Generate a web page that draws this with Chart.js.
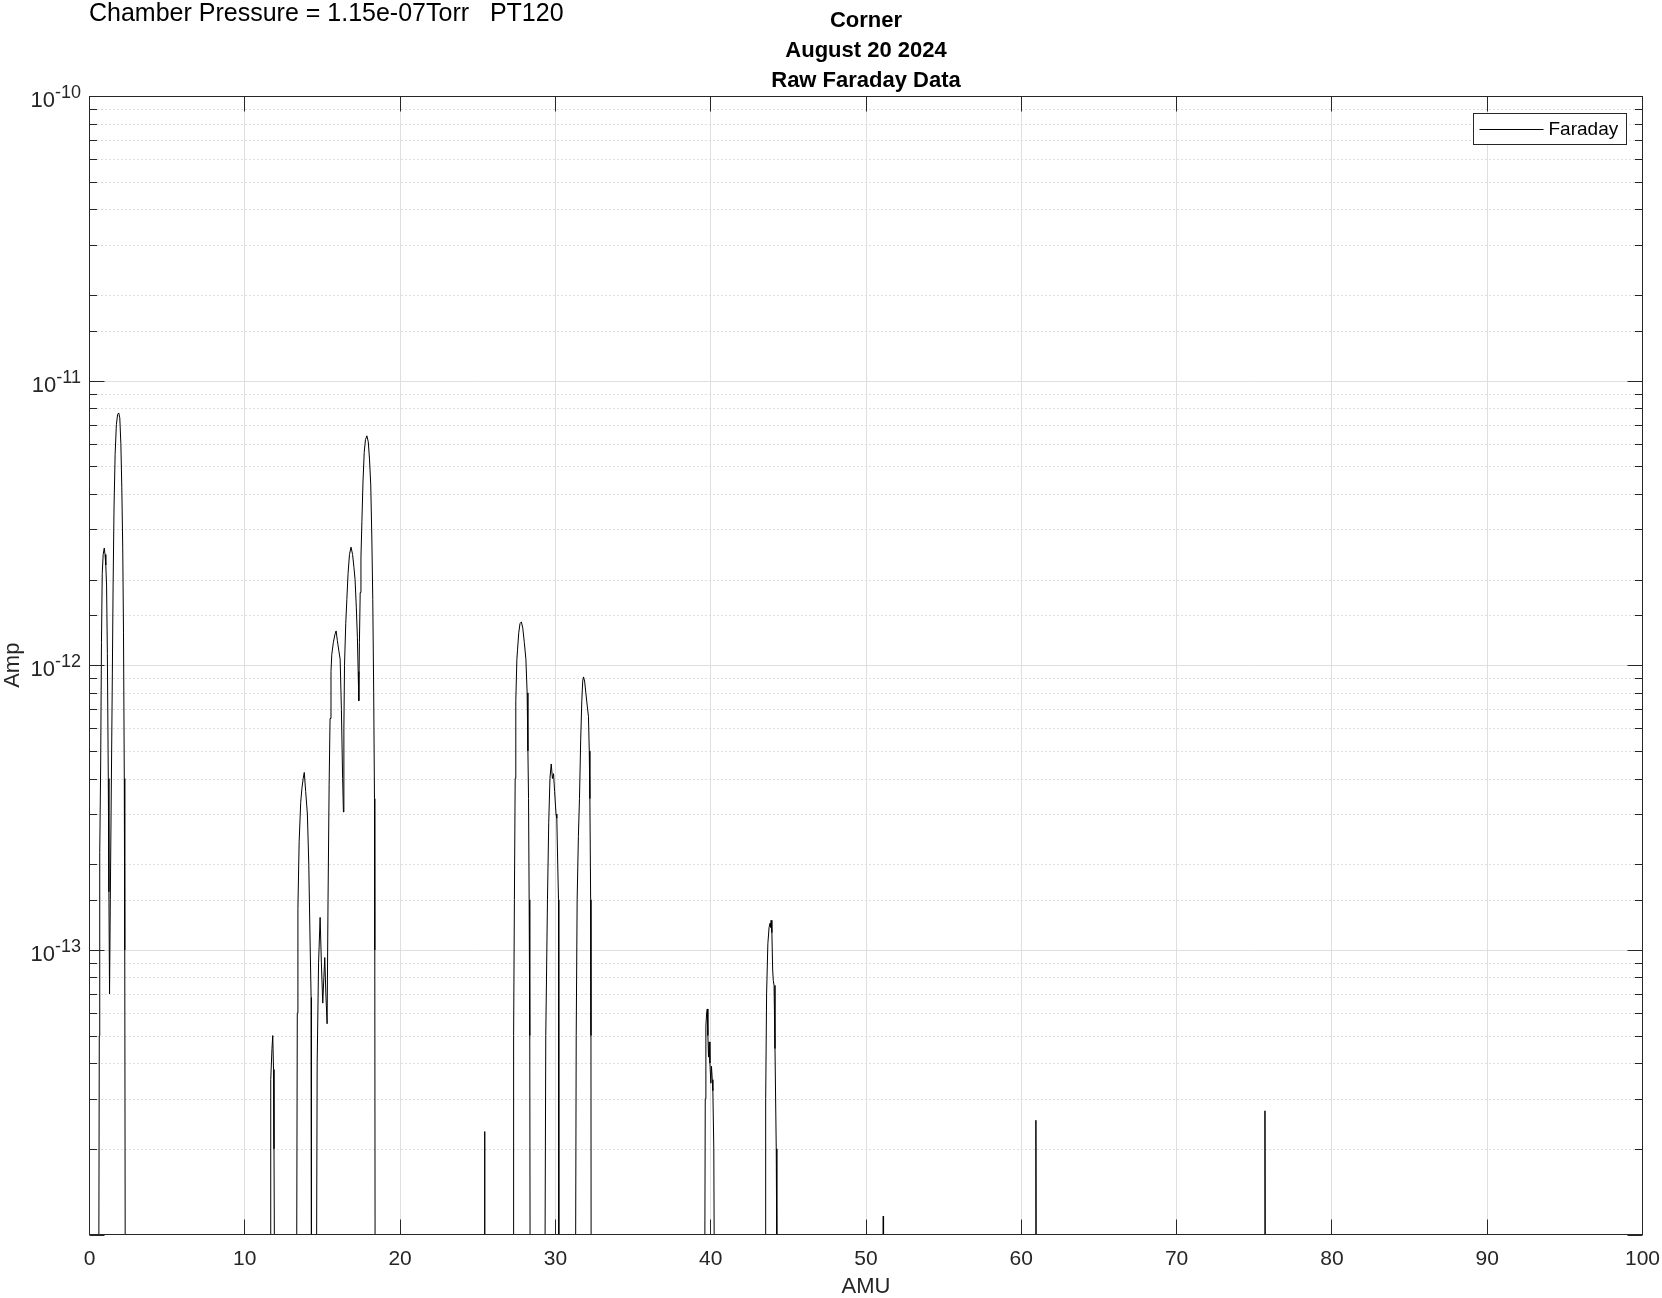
<!DOCTYPE html>
<html>
<head>
<meta charset="utf-8">
<script src="https://cdn.jsdelivr.net/npm/chart.js@4.4.1/dist/chart.umd.min.js"></script>
<style>
html,body{margin:0;padding:0;background:#ffffff;}
canvas{display:block;}
</style>
</head>
<body>
<canvas id="c" width="1662" height="1298" style="width:1662px;height:1298px"></canvas>
<script>
// ---------- data ----------
const amu = [
  0, 0.60, 0.63, 0.66, 0.72, 0.77, 0.82, 0.88, 0.95, 1.00, 1.05, 1.10, 1.15, 1.21, 1.25, 1.29,
  1.34, 1.40, 1.46, 1.52, 1.58, 1.65, 1.73, 1.81, 1.88, 1.95, 2.02, 2.08, 2.14, 2.19, 2.24, 2.27, 2.30,
  11.63, 11.66, 11.68, 11.75, 11.80, 11.85, 11.88, 11.91,
  13.34, 13.38, 13.42, 13.50, 13.60, 13.68, 13.76, 13.83, 13.92, 14.03, 14.12, 14.20, 14.27, 14.29,
  14.62, 14.66, 14.75, 14.85, 14.93, 15.02, 15.09, 15.15, 15.22, 15.30,
  15.36, 15.43, 15.49, 15.55, 15.60, 15.70, 15.80, 15.88, 15.96, 16.06, 16.14, 16.22, 16.30, 16.35,
  16.38, 16.42, 16.50, 16.57, 16.65, 16.74, 16.84, 16.94, 17.03, 17.10, 17.18, 17.25, 17.30, 17.34,
  17.38, 17.43, 17.48, 17.54, 17.61, 17.69, 17.77, 17.86, 17.95, 18.03, 18.11, 18.18, 18.24, 18.30, 18.35, 18.37, 18.39,
  25.42, 25.44, 25.46,
  27.27, 27.31, 27.36, 27.41, 27.45, 27.52, 27.56, 27.64, 27.72, 27.81, 27.90, 28.00, 28.10, 28.18, 28.23, 28.27, 28.31, 28.35, 28.37,
  29.33, 29.38, 29.49, 29.57, 29.65, 29.73, 29.81, 29.88, 29.95, 30.04, 30.09, 30.15, 30.20, 30.22,
  31.30, 31.34, 31.40, 31.48, 31.55, 31.63, 31.70, 31.76, 31.81, 31.88, 31.96, 32.05, 32.13, 32.18, 32.22, 32.27, 32.29, 32.30,
  39.62, 39.65, 39.69, 39.74, 39.78, 39.82, 39.86, 39.90, 39.95, 40.01, 40.05, 40.10, 40.14, 40.20, 40.23,
  43.50, 43.54, 43.60, 43.68, 43.76, 43.82, 43.86, 43.89, 43.94, 43.99, 44.03, 44.08, 44.14, 44.22, 44.26,
  51.09, 51.11, 51.13,
  60.92, 60.94, 60.96,
  75.67, 75.69, 75.71,
  100
];
const amp = [
  8e-15, 8e-15, 5e-14, 2.2e-13, 4.5e-13, 1.2e-12, 2.1e-12, 2.45e-12, 2.58e-12, 2.45e-12, 2.25e-12, 1.9e-12, 1.1e-12, 4e-13, 1.6e-13, 7e-14,
  1.5e-13, 3.5e-13, 8e-13, 1.9e-12, 3.6e-12, 5.5e-12, 7.0e-12, 7.6e-12, 7.7e-12, 7.4e-12, 6.0e-12, 4.2e-12, 2.6e-12, 1.3e-12, 4e-13, 1e-13, 8e-15,
  8e-15, 2e-14, 3.5e-14, 4.5e-14, 5e-14, 3.8e-14, 2e-14, 8e-15,
  8e-15, 6e-14, 1.4e-13, 2.4e-13, 3.3e-13, 3.7e-13, 4.0e-13, 4.2e-13, 3.6e-13, 3.0e-13, 2e-13, 1.1e-13, 6.8e-14, 8e-15,
  8e-15, 4e-14, 9e-14, 1.3e-13, 9e-14, 6.5e-14, 8e-14, 9.4e-14, 7e-14, 5.5e-14,
  1.5e-13, 3.8e-13, 6.5e-13, 9.5e-13, 1.09e-12, 1.2e-12, 1.28e-12, 1.32e-12, 1.22e-12, 1.12e-12, 1.05e-12, 7e-13, 4e-13, 3.05e-13,
  6e-13, 1e-12, 1.4e-12, 1.7e-12, 2.1e-12, 2.45e-12, 2.6e-12, 2.45e-12, 2.2e-12, 2.0e-12, 1.6e-12, 1.25e-12, 9.5e-13, 7.5e-13,
  1.2e-12, 1.8e-12, 2.4e-12, 3.2e-12, 4.4e-12, 5.6e-12, 6.2e-12, 6.4e-12, 6.1e-12, 5.3e-12, 4.3e-12, 2.8e-12, 1.7e-12, 8e-13, 3.4e-13, 1e-13, 8e-15,
  8e-15, 2.3e-14, 8e-15,
  8e-15, 5e-14, 1.5e-13, 4e-13, 7.5e-13, 1.05e-12, 1.13e-12, 1.3e-12, 1.4e-12, 1.42e-12, 1.35e-12, 1.2e-12, 1.05e-12, 8e-13, 5e-13, 3.4e-13, 1.5e-13, 5e-14, 8e-15,
  8e-15, 5e-14, 1.5e-13, 2.8e-13, 4e-13, 4.5e-13, 4.0e-13, 4.16e-13, 3.6e-13, 3.0e-13, 2.9e-13, 2e-13, 1.5e-13, 8e-15,
  8e-15, 5e-14, 1.5e-13, 2.5e-13, 3.4e-13, 5.5e-13, 7.5e-13, 8.8e-13, 9.1e-13, 8.8e-13, 8.0e-13, 7.2e-13, 6.6e-13, 5e-13, 3.4e-13, 1.5e-13, 5e-14, 8e-15,
  8e-15, 3e-14, 5.4e-14, 6e-14, 6.2e-14, 5e-14, 4.2e-14, 4.75e-14, 4e-14, 3.4e-14, 3.9e-14, 3.5e-14, 3.2e-14, 2e-14, 8e-15,
  8e-15, 3e-14, 7e-14, 1.05e-13, 1.2e-13, 1.24e-13, 1.2e-13, 1.27e-13, 1.15e-13, 8.5e-14, 7.8e-14, 7.5e-14, 4.5e-14, 2e-14, 8e-15,
  8e-15, 1.16e-14, 8e-15,
  8e-15, 2.52e-14, 8e-15,
  8e-15, 2.72e-14, 8e-15,
  8e-15
];
const xTickValues = [0, 10, 20, 30, 40, 50, 60, 70, 80, 90, 100];
const yTickExponents = [-10, -11, -12, -13];
const seriesLabel = 'Faraday';
const titleLines = ['Corner', 'August 20 2024', 'Raw Faraday Data'];
const pressureNote = 'Chamber Pressure = 1.15e-07Torr   PT120';
const xAxisTitle = 'AMU';
const yAxisTitle = 'Amp';

// ---------- styling ----------
const FONT = '"Liberation Sans", Arial, Helvetica, sans-serif';
const AXIS_COLOR = '#262626';

function isDecade(v) {
  const e = Math.log10(v);
  return Math.abs(e - Math.round(e)) < 1e-6;
}

const matlabAxes = {
  id: 'matlabAxes',
  beforeDatasetsDraw(chart) {
    const {ctx, chartArea: a, scales: {x, y}} = chart;
    const L = Math.floor(a.left) + 0.5, R = Math.floor(a.right) + 0.5;
    const T = Math.floor(a.top) + 0.5, B = Math.floor(a.bottom) + 0.5;
    ctx.save();
    ctx.lineWidth = 1;
    // minor y grid (dotted)
    ctx.strokeStyle = '#bdbdbd';
    ctx.setLineDash([1, 3]);
    y.ticks.forEach(t => {
      if (isDecade(t.value)) return;
      const py = Math.round(y.getPixelForValue(t.value)) + 0.5;
      if (py <= T || py >= B) return;
      ctx.beginPath(); ctx.moveTo(L, py); ctx.lineTo(R, py); ctx.stroke();
    });
    ctx.setLineDash([]);
    // major grid
    ctx.strokeStyle = '#dfdfdf';
    y.ticks.forEach(t => {
      if (!isDecade(t.value)) return;
      const py = Math.round(y.getPixelForValue(t.value)) + 0.5;
      if (py <= T + 1 || py >= B - 1) return;
      ctx.beginPath(); ctx.moveTo(L, py); ctx.lineTo(R, py); ctx.stroke();
    });
    xTickValues.forEach(v => {
      const px = Math.floor(x.getPixelForValue(v)) + 0.5;
      if (px <= L + 1 || px >= R - 1) return;
      ctx.beginPath(); ctx.moveTo(px, T); ctx.lineTo(px, B); ctx.stroke();
    });
    ctx.restore();
  },
  afterDatasetsDraw(chart) {
    const {ctx, chartArea: a, scales: {x, y}} = chart;
    const L = Math.floor(a.left) + 0.5, R = Math.floor(a.right) + 0.5;
    const T = Math.floor(a.top) + 0.5, B = Math.floor(a.bottom) + 0.5;
    ctx.save();
    ctx.lineWidth = 1;
    ctx.strokeStyle = AXIS_COLOR;
    // x ticks (inside, bottom and top)
    xTickValues.forEach(v => {
      const px = Math.floor(x.getPixelForValue(v)) + 0.5;
      ctx.beginPath();
      ctx.moveTo(px, B); ctx.lineTo(px, B - 15);
      ctx.moveTo(px, T); ctx.lineTo(px, T + 15);
      ctx.stroke();
    });
    // y ticks (inside, left and right)
    y.ticks.forEach(t => {
      const py = Math.round(y.getPixelForValue(t.value)) + 0.5;
      if (py < T - 1 || py > B + 1) return;
      const len = isDecade(t.value) ? 15 : 7.5;
      ctx.beginPath();
      ctx.moveTo(L, py); ctx.lineTo(L + len, py);
      ctx.moveTo(R, py); ctx.lineTo(R - len, py);
      ctx.stroke();
    });
    // box
    ctx.strokeRect(L, T, R - L, B - T);

    // legend
    const ds = chart.data.datasets[0];
    ctx.font = '19px ' + FONT;
    const tw = ctx.measureText(ds.label).width;
    const bw = Math.round(6 + 64 + 5 + tw + 8);
    const bh = 31;
    const bx = Math.floor(a.right - 16 - bw) + 0.5;
    const by = Math.floor(a.top + 17) + 0.5;
    ctx.fillStyle = '#ffffff';
    ctx.fillRect(bx, by, bw, bh);
    ctx.strokeStyle = AXIS_COLOR;
    ctx.strokeRect(bx, by, bw, bh);
    const my = Math.floor(by + bh / 2) + 0.5;
    ctx.strokeStyle = ds.borderColor;
    ctx.beginPath(); ctx.moveTo(bx + 6, my); ctx.lineTo(bx + 70, my); ctx.stroke();
    ctx.fillStyle = '#000000';
    ctx.textAlign = 'left';
    ctx.textBaseline = 'middle';
    ctx.fillText(ds.label, bx + 75, my + 0.5);
    ctx.restore();
  },
  afterDraw(chart) {
    const {ctx, chartArea: a, scales: {y}} = chart;
    ctx.save();
    ctx.fillStyle = AXIS_COLOR;
    ctx.textBaseline = 'middle';
    // y tick labels: 10^exp
    yTickExponents.forEach(e => {
      const py = y.getPixelForValue(Math.pow(10, e));
      const sup = String(e);
      ctx.font = '18px ' + FONT;
      const sw = ctx.measureText(sup).width;
      const supX = a.left - 8.5 - sw;
      ctx.textAlign = 'left';
      ctx.fillText(sup, supX, py - 3);
      ctx.font = '22px ' + FONT;
      ctx.textAlign = 'right';
      ctx.fillText('10', supX, py + 5);
    });
    // pressure note at top left
    ctx.fillStyle = '#000000';
    ctx.font = '25px ' + FONT;
    ctx.textAlign = 'left';
    ctx.fillText(pressureNote, a.left - 0.5, 14);
    ctx.restore();
  }
};

new Chart(document.getElementById('c'), {
  type: 'line',
  data: {
    datasets: [{
      label: seriesLabel,
      data: amu.map((m, i) => ({x: m, y: amp[i]})),
      borderColor: '#000000',
      borderWidth: 1,
      pointRadius: 0,
      fill: false,
      tension: 0
    }]
  },
  options: {
    responsive: false,
    animation: false,
    devicePixelRatio: 1,
    layout: {padding: {left: 0, right: 19.5, top: 0, bottom: 0}},
    plugins: {
      legend: {display: false},
      tooltip: {enabled: false},
      title: {
        display: true,
        text: titleLines,
        fullSize: false,
        color: '#000000',
        font: {family: FONT, size: 22, weight: 'bold', lineHeight: '30px'},
        padding: {top: 6, bottom: 0}
      }
    },
    scales: {
      x: {
        type: 'linear',
        min: 0,
        max: 100,
        afterBuildTicks(s) { s.ticks = xTickValues.map(v => ({value: v})); },
        ticks: {color: AXIS_COLOR, font: {family: FONT, size: 21}, padding: 12, maxRotation: 0, autoSkip: false},
        grid: {display: false, drawTicks: false},
        border: {display: false},
        title: {display: true, text: xAxisTitle, color: AXIS_COLOR, font: {family: FONT, size: 22, lineHeight: 1}, padding: {top: 0, bottom: 0}},
        afterFit(s) { s.height = 63.5; s.paddingLeft = 0; s.paddingRight = 0; }
      },
      y: {
        type: 'logarithmic',
        min: 1e-14,
        max: 1e-10,
        ticks: {display: false},
        grid: {display: false, drawTicks: false},
        border: {display: false},
        title: {display: true, text: yAxisTitle, color: AXIS_COLOR, font: {family: FONT, size: 22, lineHeight: 1}, padding: {top: 2, bottom: 0}},
        afterFit(s) { s.width = 89.5; s.paddingTop = 0; s.paddingBottom = 0; }
      }
    }
  },
  plugins: [matlabAxes]
});
</script>
</body>
</html>
